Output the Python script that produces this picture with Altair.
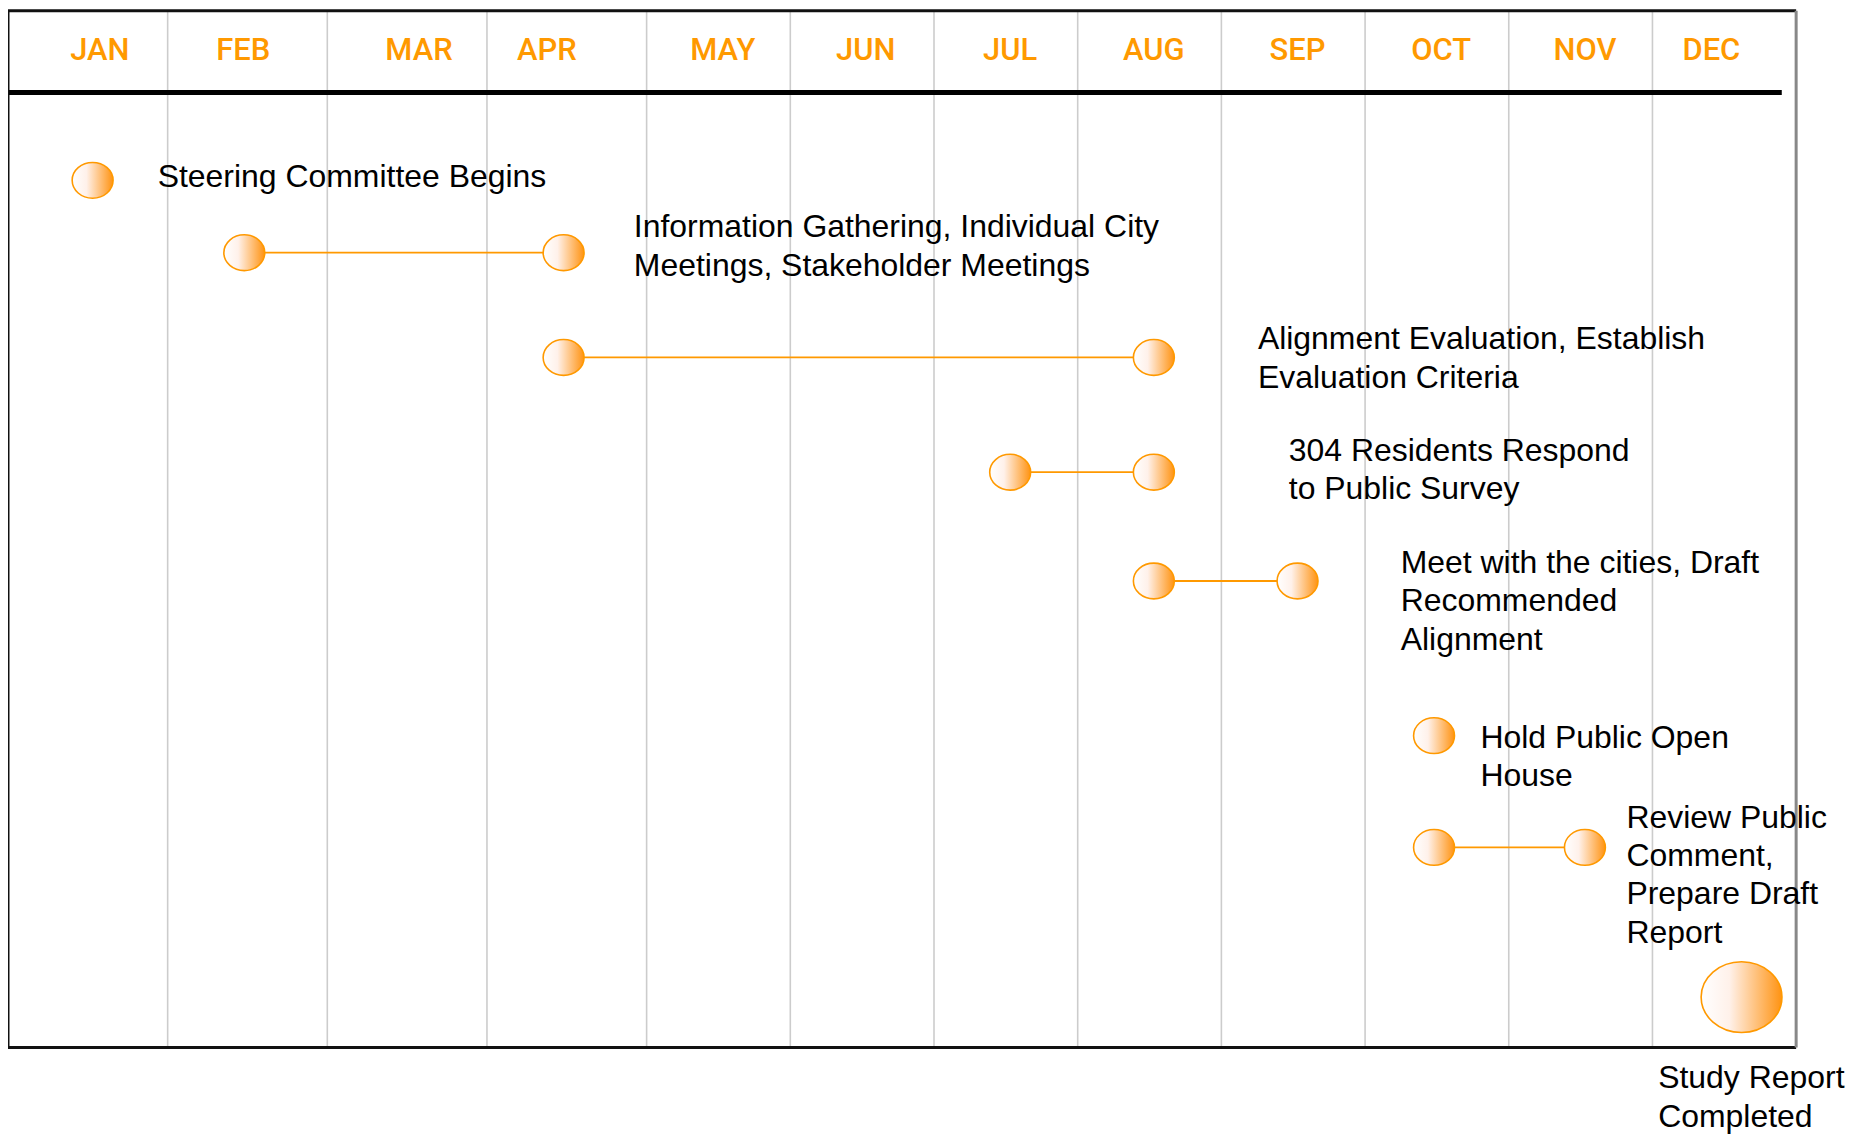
import altair as alt
import pandas as pd

# ---------------- data ----------------
MONTHS = ["JAN", "FEB", "MAR", "APR", "MAY", "JUN", "JUL", "AUG", "SEP", "OCT", "NOV", "DEC"]
MONTH_LABEL_POS = [0.575, 1.474, 2.574, 3.375, 4.53, 5.525, 6.53, 7.53, 8.53, 9.53, 10.53, 11.41]
MONTH_EDGES = [1, 2, 3, 4, 5, 6, 7, 8, 9, 10, 11]

EVENT_LABELS = [
    "Steering Committee Begins",
    "Information Gathering, Individual City\nMeetings, Stakeholder Meetings",
    "Alignment Evaluation, Establish\nEvaluation Criteria",
    "304 Residents Respond\nto Public Survey",
    "Meet with the cities, Draft\nRecommended\nAlignment",
    "Hold Public Open\nHouse",
    "Review Public\nComment,\nPrepare Draft\nReport",
    "Study Report\nCompleted",
]
EVENT_START = [0.53, 1.48, 3.48, 6.53, 7.53, 9.48, 9.48, 11.62]
EVENT_END = [None, 3.48, 7.53, 7.53, 8.53, None, 10.53, None]
EVENT_ROW = [171.5, 244, 349, 464, 573, 728, 840, 990]
LABEL_X = [0.9375, 3.92, 8.254, 8.469, 9.248, 9.803, 10.819, 11.04]
LABEL_ROW = [153.2, 203.6, 315.7, 427.8, 539.9, 715.2, 795.2, 1056.5]
MILESTONE = [False, False, False, False, False, False, False, True]

FRAME_TOP = 1.5
HEADER_ROW = 83.5
HEADER_END = 11.9
FRAME_BOTTOM = 1040.5
MONTH_BASELINE = 51

# ---------------- layout ----------------
W, H = 1792, 1129
ORANGE = "#ff9900"

x_scale = alt.Scale(domain=[0, 4, 12], range=[0, 640, W], nice=False, zero=False)
y_scale = alt.Scale(domain=[0, H], range=[0, H], nice=False, zero=False)


def X(f):
    return alt.X(f, type="quantitative", scale=x_scale, axis=None)


def Y(f):
    return alt.Y(f, type="quantitative", scale=y_scale, axis=None)


grid_df = pd.DataFrame({"x": MONTH_EDGES, "y": FRAME_TOP, "y2": FRAME_BOTTOM})
grid = alt.Chart(grid_df).mark_rule(color="#cccccc", strokeWidth=1.6).encode(
    x=X("x"), y=Y("y"), y2="y2"
)

border_df = pd.DataFrame({
    "x": [0, 0, 0, 12],
    "x2": [12, 0, 12, 12],
    "y": [FRAME_TOP, FRAME_TOP, FRAME_BOTTOM, FRAME_TOP],
    "y2": [FRAME_TOP, FRAME_BOTTOM, FRAME_BOTTOM, FRAME_BOTTOM],
    "c": ["#111111", "#111111", "#111111", "#888888"],
})
border = alt.Chart(border_df).mark_rule(strokeWidth=3).encode(
    x=X("x"), x2="x2", y=Y("y"), y2="y2", color=alt.Color("c:N", scale=None)
)

header_df = pd.DataFrame({"x": [0], "x2": [HEADER_END], "y": [HEADER_ROW]})
header = alt.Chart(header_df).mark_rule(color="black", strokeWidth=5).encode(
    x=X("x"), x2="x2", y=Y("y")
)

month_df = pd.DataFrame({"m": MONTHS, "x": MONTH_LABEL_POS, "y": MONTH_BASELINE})
months = alt.Chart(month_df).mark_text(
    font="Roboto", fontSize=31, fontWeight=500, color=ORANGE,
    align="center", baseline="alphabetic"
).encode(x=X("x"), y=Y("y"), text="m:N")

ev = pd.DataFrame({
    "label": EVENT_LABELS,
    "start": EVENT_START,
    "end": EVENT_END,
    "row": EVENT_ROW,
    "lx": LABEL_X,
    "ly": LABEL_ROW,
    "milestone": MILESTONE,
})

span_df = ev.dropna(subset=["end"])
spans = alt.Chart(span_df).mark_rule(color=ORANGE, strokeWidth=1.8).encode(
    x=X("start"), x2="end", y=Y("row")
)

pts = pd.concat([
    ev[["start", "row", "milestone"]].rename(columns={"start": "x"}),
    span_df[["end", "row", "milestone"]].rename(columns={"end": "x"}),
], ignore_index=True)

grad = alt.LinearGradient(
    gradient="linear",
    stops=[
        alt.GradientStop(offset=0, color="#ffffff"),
        alt.GradientStop(offset=0.35, color="#fff1ea"),
        alt.GradientStop(offset=1, color="#ff9312"),
    ],
    x1=0, x2=1, y1=0, y2=0,
)
ELLIPSE = "M -1 0 A 1 0.875 0 1 1 1 0 A 1 0.875 0 1 1 -1 0 Z"

dots = alt.Chart(pts[~pts["milestone"]]).mark_point(
    shape=ELLIPSE, size=41 * 41, filled=True, fill=grad, stroke=ORANGE,
    strokeWidth=1.6, opacity=1
).encode(x=X("x"), y=Y("row"))

big = alt.Chart(pts[pts["milestone"]]).mark_point(
    shape=ELLIPSE, size=81 * 81, filled=True, fill=grad, stroke=ORANGE,
    strokeWidth=1.6, opacity=1
).encode(x=X("x"), y=Y("row"))

labels = alt.Chart(ev).mark_text(
    font="Liberation Sans", fontSize=32, color="black", align="left",
    baseline="top", lineBreak="\n", lineHeight=38.5
).encode(x=X("lx"), y=Y("ly"), text="label:N")

chart = alt.layer(grid, header, border, months, spans, dots, big, labels).properties(
    width=W, height=H,
    padding={"left": 0, "top": 0, "right": 66, "bottom": 0},
    autosize=alt.AutoSizeParams(type="none"),
    background="white",
).configure_view(stroke=None)

chart.save("out.html", embed_options={"renderer": "svg", "actions": False})
